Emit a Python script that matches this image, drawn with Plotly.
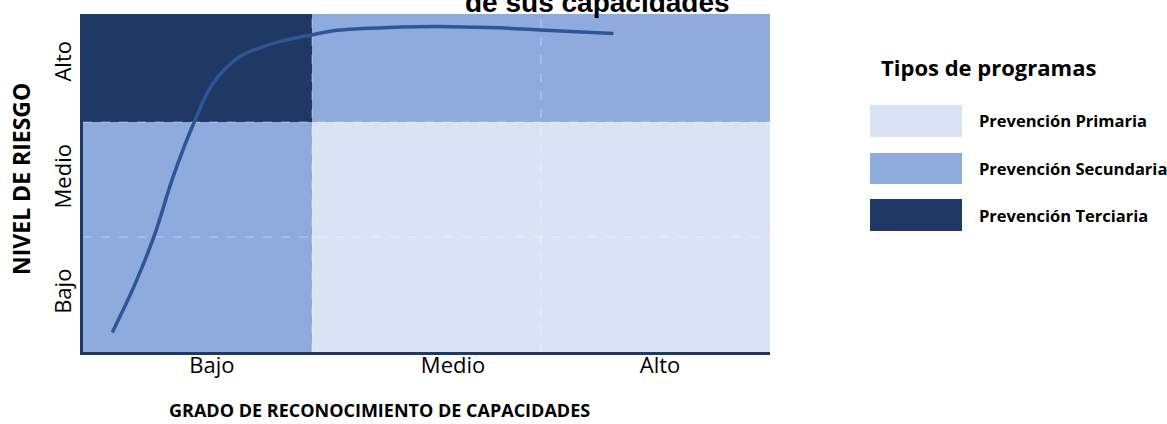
import plotly.graph_objects as go

# ---- data ----
capacidad_levels = ["Bajo", "Medio", "Alto"]          # x categories (grado de reconocimiento)
riesgo_levels = ["Bajo", "Medio", "Alto"]             # y categories (nivel de riesgo)
program_types = ["Prevención Primaria", "Prevención Secundaria", "Prevención Terciaria"]
program_colors = ["#DAE3F3", "#8FAADC", "#203864"]

# program code per cell: rows = riesgo (Bajo, Medio, Alto), cols = capacidad (Bajo, Medio, Alto)
program_matrix = [
    [1, 0, 0],
    [1, 0, 0],
    [2, 1, 1],
]

# curve (x in capacity units 0-3, y in risk units 0-3)
curve_x = [0.128, 0.227, 0.310, 0.394, 0.486, 0.569, 0.686, 0.860, 1.003, 1.122, 1.384, 1.603, 1.821, 1.996, 2.316]
curve_y = [0.170, 0.590, 1.005, 1.527, 2.000, 2.339, 2.570, 2.700, 2.760, 2.800, 2.826, 2.830, 2.820, 2.800, 2.770]

x_tick_pos = [0.563, 1.616, 2.52]
y_tick_pos = [0.5, 1.5, 2.5]
cell_centers = [0.5, 1.5, 2.5]
boundaries = [1, 2]

title_text = "de sus capacidades"
x_title = "GRADO DE RECONOCIMIENTO DE CAPACIDADES"
y_title = "NIVEL DE RIESGO"
legend_title = "Tipos de programas"

BOLD = "Open Sans, sans-serif"
REG = "Open Sans, sans-serif"

fig = go.Figure()

n = len(program_colors) - 1
colorscale = [[i / n, c] for i, c in enumerate(program_colors)]
fig.add_trace(go.Heatmap(
    x=cell_centers, y=cell_centers, z=program_matrix,
    zmin=0, zmax=n, colorscale=colorscale, showscale=False, hoverinfo="skip",
))

# dashed white grid at cell boundaries (drawn over the cells)
for b in boundaries:
    fig.add_trace(go.Scatter(x=[b, b], y=[0, 3], mode="lines",
                             line=dict(color="rgba(255,255,255,0.45)", width=1, dash="dash"),
                             hoverinfo="skip", showlegend=False))
    fig.add_trace(go.Scatter(x=[0, 3], y=[b, b], mode="lines",
                             line=dict(color="rgba(255,255,255,0.45)", width=1, dash="dash"),
                             hoverinfo="skip", showlegend=False))

fig.add_trace(go.Scatter(x=curve_x, y=curve_y, mode="lines",
                         line=dict(color="#2F5597", width=3.5, shape="spline", smoothing=1.0),
                         hoverinfo="skip", showlegend=False))

fig.update_xaxes(range=[0, 3], tickvals=x_tick_pos, ticktext=capacidad_levels,
                 showgrid=False, zeroline=False, showline=True, linecolor="#1F3864", linewidth=3,
                 ticks="", ticklabelstandoff=-8,
                 tickfont=dict(family=REG, size=22, color="black"), fixedrange=True)
fig.update_yaxes(range=[0, 2.94], tickvals=y_tick_pos, ticktext=riesgo_levels, tickangle=-90,
                 showgrid=False, zeroline=False, showline=True, linecolor="#1F3864", linewidth=3,
                 ticks="", tickfont=dict(family=REG, size=22, color="black"), fixedrange=True)

W, H = 1167, 424
L, R, T, B = 83, 397, 14, 72
pw, ph = W - L - R, H - T - B

def px(xp):
    return (xp - L) / pw

def py(yp):
    return (H - B - yp) / ph

annotations = [
    dict(text=f"<b>{title_text}</b>", x=px(597), y=py(3), xref="paper", yref="paper",
         xanchor="center", yanchor="middle", showarrow=False,
         font=dict(family="Liberation Sans, Arial", size=28, color="black")),
    dict(text=f"<b>{x_title}</b>", x=px(379), y=py(410), xref="paper", yref="paper",
         xanchor="center", yanchor="middle", showarrow=False,
         font=dict(family=BOLD, size=18, color="black")),
    dict(text=f"<b>{y_title}</b>", x=px(21), y=py(179), xref="paper", yref="paper",
         xanchor="center", yanchor="middle", showarrow=False, textangle=-90,
         font=dict(family=BOLD, size=23, color="black")),
    dict(text=f"<b>{legend_title}</b>", x=px(988), y=py(67), xref="paper", yref="paper",
         xanchor="center", yanchor="middle", showarrow=False,
         font=dict(family=BOLD, size=22, color="black")),
]

shapes = []
swatch_rows = [(105, 137), (153, 184), (199, 231)]
for (y0, y1), name, col in zip(swatch_rows, program_types, program_colors):
    shapes.append(dict(type="rect", xref="paper", yref="paper",
                       x0=px(870), x1=px(962), y0=py(y1), y1=py(y0),
                       fillcolor=col, line=dict(width=0)))
    annotations.append(dict(text=f"<b>{name}</b>", x=px(977), y=py((y0 + y1) / 2),
                            xref="paper", yref="paper", xanchor="left", yanchor="middle",
                            showarrow=False, font=dict(family=BOLD, size=16.5, color="black")))

fig.update_layout(
    width=W, height=H, margin=dict(l=L, r=R, t=T, b=B, pad=0),
    paper_bgcolor="white", plot_bgcolor="white",
    showlegend=False, annotations=annotations, shapes=shapes,
)

fig.write_html("out.html", config={"displayModeBar": False},
               post_script="document.body.style.margin='0px';")
